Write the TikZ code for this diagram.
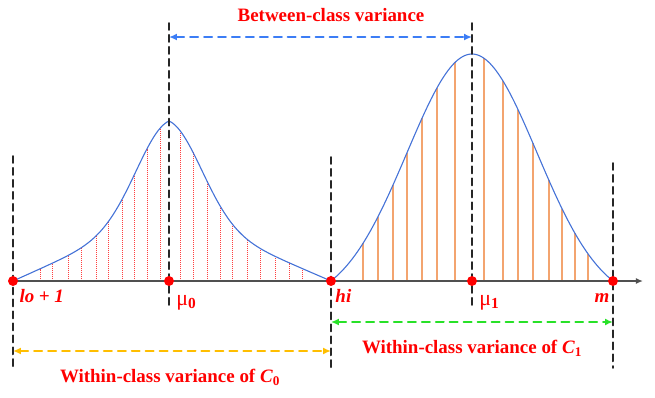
\documentclass[tikz,border=0pt]{standalone}
\usepackage{fontspec}
\setmainfont{Liberation Serif}
\usepackage{tkz-euclide}
\usetikzlibrary{arrows.meta}
\definecolor{curveblue}{RGB}{68,114,215}
\definecolor{arrowblue}{RGB}{60,125,245}
\definecolor{arrowgreen}{RGB}{40,225,40}
\definecolor{arrowgold}{RGB}{255,190,0}
\definecolor{barorange}{RGB}{237,125,49}
\definecolor{axisgray}{RGB}{80,80,80}
\tikzset{
	vline/.style={black!85,line width=2pt,dash pattern=on 7pt off 5pt},
	varspan/.style={line width=2pt,dash pattern=on 8pt off 6pt,>={Latex[length=8pt,width=7pt]},<->},
	curve/.style={curveblue,line width=1.1pt},
	lobar/.style={red!75,line width=0.6pt,dash pattern=on 1pt off 1pt},
	hibar/.style={barorange!70,line width=1.2pt},
	axisline/.style={axisgray,line width=1.4pt,-{Latex[length=7pt,width=6pt]}},
	dot/.style={circle,fill=red,inner sep=0pt,minimum size=10pt},
	title/.style={red,font=\fontsize{19}{21}\selectfont\bfseries},
	ptlabel/.style={red,font=\fontsize{19}{21}\selectfont\bfseries\itshape},
	mulabel/.style={red,font=\fontsize{22}{24}\selectfont}
}

\begin{document}
\begin{tikzpicture}[scale=0.3528,
		declare function={fl(\x)=7*(1-abs(\x-16.9)/ifthenelse(\x<16.9,15.6,16.2))+9*exp(-((\x-16.9)^2)/21.78);
			fr(\x)=22.7*(exp(-((\x-47.2)^2)/84.5)-0.095)/0.905;}]
			\useasboundingbox (0,0) rectangle (65.5,39.8);
			\tkzDefPoints{1.3/11.7/lo,16.9/11.7/mu0,33.1/11.7/hi,47.2/11.7/mu1,61.3/11.7/m,64.3/11.7/xend}
			\tkzDefPoints{1.3/24.2/loT,1.3/3.1/loB,16.9/37.5/muT0,16.9/9.1/muB0,33.1/24.1/hiT,33.1/3.0/hiB}
			\tkzDefPoints{47.2/37.5/muT1,47.2/8.9/muB1,61.3/23.5/mT,61.3/3.0/mB}
			\tkzDefPoints{16.9/36.1/bA,47.2/36.1/bB,33.1/7.6/gA,61.3/7.6/gB,1.3/4.7/oA,33.1/4.7/oB}
			\foreach \x in {4.0,5.2,6.8,8.1,9.6,10.8,12.2,13.4,14.7,16.0,18.0,19.3,20.7,22.0,23.2,24.7,26.0,27.5,28.9,30.2}
				\draw[lobar] (\x,11.7) -- (\x,{11.7+fl(\x)});
			\foreach \x in {36.3,37.8,39.3,40.7,42.2,43.7,45.5,48.4,50.3,51.8,53.3,54.9,56.2,57.5,58.8}
				\draw[hibar] (\x,11.7) -- (\x,{11.7+fr(\x)});
			\draw[curve] plot[domain=1.3:33.1,samples=150,smooth] (\x,{11.7+fl(\x)});
			\draw[curve] plot[domain=33.1:61.3,samples=150,smooth] (\x,{11.7+fr(\x)});
			\tkzDrawSegment[axisline](lo,xend)
			\tkzDrawSegments[vline](loT,loB muT0,muB0 hiT,hiB muT1,muB1 mT,mB)
			\tkzDrawSegment[varspan,arrowblue](bA,bB)
			\tkzDrawSegment[varspan,arrowgreen](gA,gB)
			\tkzDrawSegment[varspan,arrowgold](oA,oB)
			\foreach \p in {lo,mu0,hi,mu1,m}
				\node[dot] (d\p) at (\p) {};
			\tkzLabelPoint[below right,ptlabel,xshift=3pt,yshift=-5pt](lo){lo + 1}
			\tkzLabelPoint[below right,ptlabel,xshift=1pt,yshift=-5pt](hi){hi}
			\tkzLabelPoint[below left,ptlabel,yshift=-9pt](m){m}
			\tkzLabelPoint[below right,mulabel,xshift=4pt,yshift=-11pt](mu0){μ\textsubscript{\bfseries 0}}
			\tkzLabelPoint[below right,mulabel,xshift=4pt,yshift=-11pt](mu1){μ\textsubscript{\bfseries 1}}
			\node[title] (between) at (33.1,38.3) {Between-class variance};
			\node[title] (within1) at (47.2,5.0) {Within-class variance of \textit{C}\textsubscript{1}};
			\node[title] (within0) at (17.0,2.1) {Within-class variance of \textit{C}\textsubscript{0}};
		\end{tikzpicture}
\end{document}
